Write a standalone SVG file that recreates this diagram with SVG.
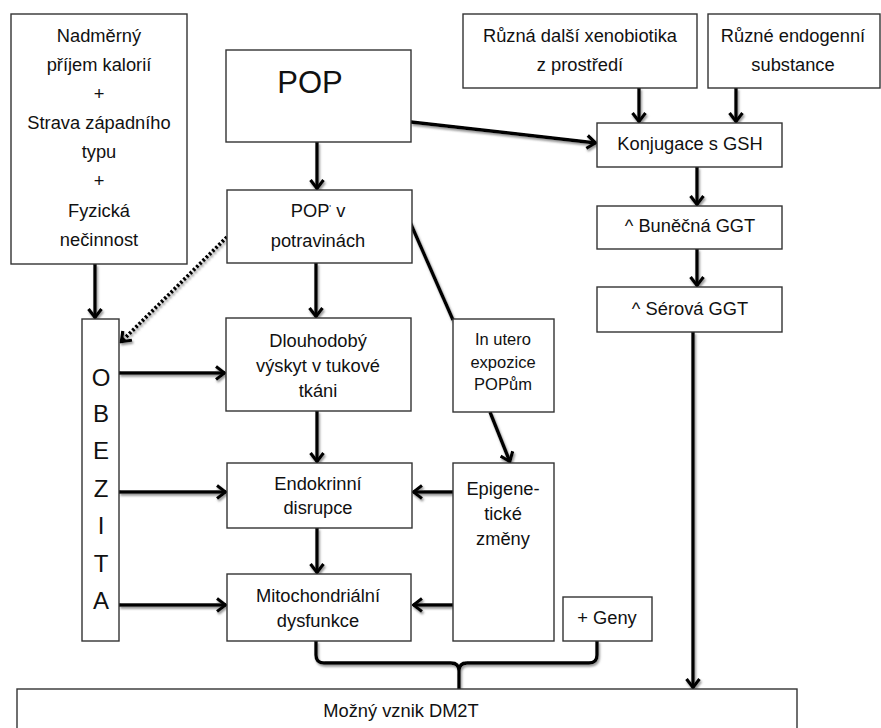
<svg xmlns="http://www.w3.org/2000/svg" width="881" height="728" viewBox="0 0 881 728">
<defs>
<style>
.box{fill:#fff;stroke:#333;stroke-width:1.4}
.t{font-family:"Liberation Sans",Arial,sans-serif;font-size:18.3px;fill:#111;text-anchor:middle}
.s{font-size:16.5px}
.big{font-size:24px}
.pop{font-size:31px}
.c{fill:none;stroke:#000;stroke-width:3.4}
.dot{stroke-dasharray:2.5 2;stroke-width:3.8}
</style>
<marker id="ah" viewBox="0 0 12 16" refX="10.5" refY="8" markerWidth="12" markerHeight="16" markerUnits="userSpaceOnUse" orient="auto">
<path d="M1.5,1.5 L10,8 L1.5,14.5" fill="none" stroke="#000" stroke-width="3.2"/>
</marker>
<filter id="sh" x="-10%" y="-10%" width="120%" height="120%">
<feDropShadow dx="1.2" dy="2" stdDeviation="0.8" flood-color="#777" flood-opacity="0.8"/>
</filter>
</defs>
<rect width="881" height="728" fill="#fff"/>

<g id="connectors" filter="url(#sh)">
<line class="c" x1="95" y1="264" x2="95" y2="318" marker-end="url(#ah)"/>
<line class="c" x1="317" y1="142" x2="317" y2="189" marker-end="url(#ah)"/>
<line class="c" x1="411" y1="122" x2="596" y2="143" marker-end="url(#ah)"/>
<line class="c" x1="316" y1="263" x2="316" y2="317" marker-end="url(#ah)"/>
<line class="c dot" x1="227" y1="237" x2="121" y2="342" marker-end="url(#ah)"/>
<polyline class="c" points="410,222 453,320"/>
<line class="c" x1="119" y1="373" x2="225" y2="373" marker-end="url(#ah)"/>
<line class="c" x1="317" y1="411" x2="317" y2="462" marker-end="url(#ah)"/>
<line class="c" x1="490" y1="412" x2="510" y2="462" marker-end="url(#ah)"/>
<line class="c" x1="119" y1="492" x2="226" y2="492" marker-end="url(#ah)"/>
<line class="c" x1="453" y1="492" x2="413" y2="492" marker-end="url(#ah)"/>
<line class="c" x1="317" y1="528" x2="317" y2="573" marker-end="url(#ah)"/>
<line class="c" x1="119" y1="605" x2="226" y2="605" marker-end="url(#ah)"/>
<line class="c" x1="453" y1="605" x2="413" y2="605" marker-end="url(#ah)"/>
<line class="c" x1="639" y1="88" x2="639" y2="122" marker-end="url(#ah)"/>
<line class="c" x1="736" y1="88" x2="736" y2="122" marker-end="url(#ah)"/>
<line class="c" x1="697" y1="167" x2="697" y2="205" marker-end="url(#ah)"/>
<line class="c" x1="697" y1="249" x2="697" y2="286" marker-end="url(#ah)"/>
<line class="c" x1="693" y1="332" x2="693" y2="688" marker-end="url(#ah)"/>
<path class="c" d="M316,641 V655 Q316,663 324,663 H451 Q459,663 459,671 V689 M459,671 Q459,663 467,663 H589 Q597,663 597,655 V641"/>
</g>

<g id="n-bottom">
<rect class="box" x="17" y="689" width="780" height="60"/>
<text class="t" x="401" y="717">Možný vznik DM2T</text>
</g>

<g id="n-lifestyle">
<rect class="box" x="11" y="14" width="176" height="250"/>
<text class="t" x="99" y="42">Nadměrný</text>
<text class="t" x="99" y="71">příjem kalorií</text>
<text class="t" x="99" y="100">+</text>
<text class="t" x="99" y="129">Strava západního</text>
<text class="t" x="99" y="158">typu</text>
<text class="t" x="99" y="187">+</text>
<text class="t" x="99" y="217">Fyzická</text>
<text class="t" x="99" y="246">nečinnost</text>
</g>

<g id="n-pop">
<rect class="box" x="226" y="50" width="185" height="92"/>
<text class="t pop" x="310" y="93">POP</text>
</g>

<g id="n-food">
<rect class="box" x="227" y="190" width="185" height="73"/>
<text class="t" x="318" y="217">POP<tspan font-size="9" dy="-6">'</tspan><tspan dy="6"> v</tspan></text>
<text class="t" x="318" y="247">potravinách</text>
</g>

<g id="n-obezita">
<rect class="box" x="82" y="319" width="37" height="322"/>
<text class="t big" x="101" y="386">O</text>
<text class="t big" x="101" y="422">B</text>
<text class="t big" x="101" y="459">E</text>
<text class="t big" x="101" y="497">Z</text>
<text class="t big" x="101" y="534">I</text>
<text class="t big" x="101" y="572">T</text>
<text class="t big" x="101" y="609">A</text>
</g>

<g id="n-fat">
<rect class="box" x="226" y="318" width="185" height="93"/>
<text class="t" x="318" y="347">Dlouhodobý</text>
<text class="t" x="318" y="372">výskyt v tukové</text>
<text class="t" x="318" y="397">tkáni</text>
</g>

<g id="n-utero">
<rect class="box" x="453" y="319" width="101" height="93"/>
<text class="t s" x="503" y="345">In utero</text>
<text class="t s" x="503" y="368">expozice</text>
<text class="t s" x="503" y="390">POPům</text>
</g>

<g id="n-endo">
<rect class="box" x="227" y="463" width="185" height="65"/>
<text class="t" x="318" y="490">Endokrinní</text>
<text class="t" x="318" y="514">disrupce</text>
</g>

<g id="n-epi">
<rect class="box" x="453" y="463" width="101" height="178"/>
<text class="t" x="503" y="495">Epigene-</text>
<text class="t" x="503" y="520">tické</text>
<text class="t" x="503" y="545">změny</text>
</g>

<g id="n-mito">
<rect class="box" x="227" y="574" width="184" height="67"/>
<text class="t" x="318" y="602">Mitochondriální</text>
<text class="t" x="318" y="627">dysfunkce</text>
</g>

<g id="n-geny">
<rect class="box" x="563" y="597" width="89" height="44"/>
<text class="t" x="607" y="624">+ Geny</text>
</g>

<g id="n-xeno">
<rect class="box" x="463" y="14" width="234" height="74"/>
<text class="t" x="580" y="42">Různá další xenobiotika</text>
<text class="t" x="580" y="71">z prostředí</text>
</g>

<g id="n-endog">
<rect class="box" x="708" y="14" width="172" height="74"/>
<text class="t" x="793" y="42">Různé endogenní</text>
<text class="t" x="793" y="71">substance</text>
</g>

<g id="n-gsh">
<rect class="box" x="597" y="123" width="185" height="44"/>
<text class="t" x="690" y="150">Konjugace s GSH</text>
</g>

<g id="n-cell">
<rect class="box" x="597" y="206" width="185" height="43"/>
<text class="t" x="690" y="232">^ Buněčná GGT</text>
</g>

<g id="n-serum">
<rect class="box" x="597" y="287" width="185" height="45"/>
<text class="t" x="690" y="315">^ Sérová GGT</text>
</g>
</svg>
